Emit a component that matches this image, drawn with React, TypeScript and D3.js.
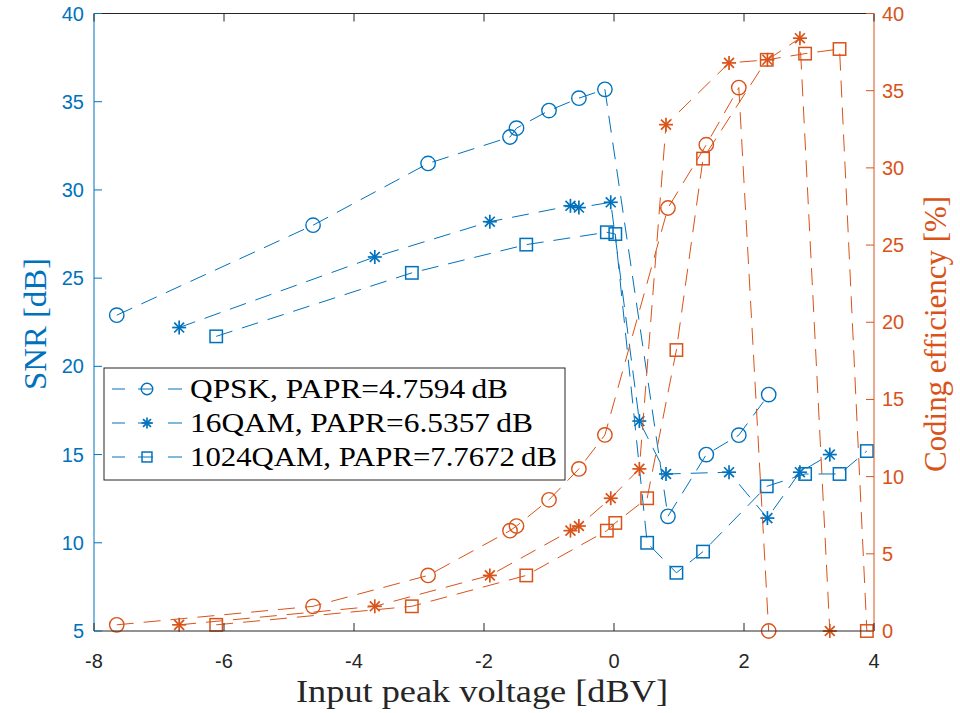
import React from "react";
import * as d3 from "d3";

const qpskX = [-7.65, -4.63, -2.86, -1.6, -1.5, -1.0, -0.54, -0.14, 0.83, 1.42, 1.92, 2.38];
const qpskSNR = [22.9, 28.0, 31.5, 33.0, 33.5, 34.5, 35.2, 35.7, 11.5, 15.0, 16.1, 18.4];
const qpskEff = [0.4, 1.6, 3.6, 6.5, 6.8, 8.5, 10.5, 12.7, 27.4, 31.5, 35.2, 0];

const qam16X = [-6.69, -3.68, -1.91, -0.67, -0.54, -0.05, 0.39, 0.8, 1.77, 2.36, 2.86, 3.32];
const qam16SNR = [22.2, 26.2, 28.2, 29.1, 29.0, 29.3, 16.9, 13.9, 14.0, 11.4, 14.0, 15.0];
const qam16Eff = [0.4, 1.6, 3.6, 6.5, 6.8, 8.6, 10.5, 32.8, 36.8, 37.0, 38.4, 0];

const qam1024X = [-6.12, -3.11, -1.35, -0.11, 0.02, 0.51, 0.96, 1.37, 2.35, 2.94, 3.47, 3.89];
const qam1024SNR = [21.7, 25.3, 26.9, 27.6, 27.5, 10.0, 8.3, 9.5, 13.2, 13.9, 13.9, 15.2];
const qam1024Eff = [0.4, 1.6, 3.6, 6.5, 7.0, 8.6, 18.2, 30.6, 37.0, 37.4, 37.7, 0];

const seriesNames = [
  "QPSK, PAPR=4.7594\u2009dB",
  "16QAM, PAPR=6.5357\u2009dB",
  "1024QAM, PAPR=7.7672\u2009dB",
];
const markerTypes = ["circle", "star", "square"];

const xTicks = [-8, -6, -4, -2, 0, 2, 4];
const yLeftTicks = [5, 10, 15, 20, 25, 30, 35, 40];
const yRightTicks = [0, 5, 10, 15, 20, 25, 30, 35, 40];

const BLUE = "#0072BD";
const ORANGE = "#D95319";
const DARK = "#262626";

const L = 94, R = 874, T = 13.5, B = 631;

function Marker({ type, x, y, color, s = 1 }: { type: string; x: number; y: number; color: string; s?: number }) {
  if (type === "circle") {
    return <circle cx={x} cy={y} r={7.2 * s} fill="none" stroke={color} strokeWidth={1.4} />;
  }
  if (type === "square") {
    const h = 6.2 * s;
    return <rect x={x - h} y={y - h} width={2 * h} height={2 * h} fill="none" stroke={color} strokeWidth={1.5} />;
  }
  const a = 7 * s;
  const b = a * 0.7071;
  return (
    <g stroke={color} strokeWidth={1.7}>
      <line x1={x - a} y1={y} x2={x + a} y2={y} />
      <line x1={x} y1={y - a} x2={x} y2={y + a} />
      <line x1={x - b} y1={y - b} x2={x + b} y2={y + b} />
      <line x1={x - b} y1={y + b} x2={x + b} y2={y - b} />
    </g>
  );
}

export default function App() {
  const x = d3.scaleLinear().domain([-8, 4]).range([L, R]);
  const yL = d3.scaleLinear().domain([5, 40]).range([B, T]);
  const yR = d3.scaleLinear().domain([0, 40]).range([B, T]);

  const xs = [qpskX, qam16X, qam1024X];
  const snrs = [qpskSNR, qam16SNR, qam1024SNR];
  const effs = [qpskEff, qam16Eff, qam1024Eff];

  const lineGen = (xv: number[], yv: number[], ys: d3.ScaleLinear<number, number>) =>
    d3.line<number>().x((_, i) => x(xv[i])).y((v) => ys(v))(yv) || "";

  const tickFont = "'Liberation Sans', Arial, Helvetica, sans-serif";
  const serif = "'Liberation Serif', 'Times New Roman', serif";

  return (
    <svg width={960} height={713} style={{ position: "absolute", left: 0, top: 0, background: "#fff" }}>
      <rect x={0} y={0} width={960} height={713} fill="#fff" />
      {xs.map((xv, si) => (
        <g key={"s" + si}>
          <path d={lineGen(xv, snrs[si], yL)} fill="none" stroke={BLUE} strokeWidth={1} strokeDasharray="17,10" />
          {snrs[si].map((v, i) => (
            <Marker key={i} type={markerTypes[si]} x={x(xv[i])} y={yL(v)} color={BLUE} />
          ))}
        </g>
      ))}
      {xs.map((xv, si) => (
        <g key={"e" + si}>
          <path d={lineGen(xv, effs[si], yR)} fill="none" stroke={ORANGE} strokeWidth={1} strokeDasharray="17,10" />
          {effs[si].map((v, i) => (
            <Marker key={i} type={markerTypes[si]} x={x(xv[i])} y={yR(v)} color={ORANGE} />
          ))}
        </g>
      ))}

      <line x1={L} y1={T} x2={R} y2={T} stroke={DARK} strokeWidth={1} />
      <line x1={L} y1={B} x2={R} y2={B} stroke={DARK} strokeWidth={1} />
      <line x1={L} y1={T} x2={L} y2={B} stroke={BLUE} strokeWidth={1} />
      <line x1={R} y1={T} x2={R} y2={B} stroke={ORANGE} strokeWidth={1} />

      {xTicks.map((t) => (
        <g key={"xt" + t}>
          <line x1={x(t)} y1={B} x2={x(t)} y2={B - 8} stroke={DARK} />
          <line x1={x(t)} y1={T} x2={x(t)} y2={T + 8} stroke={DARK} />
          <text x={x(t)} y={668} textAnchor="middle" fontFamily={tickFont} fontSize={20} fill={DARK}>
            {t}
          </text>
        </g>
      ))}
      {yLeftTicks.map((t) => (
        <g key={"yl" + t}>
          <line x1={L} y1={yL(t)} x2={L + 8} y2={yL(t)} stroke={BLUE} />
          <text x={L - 10} y={yL(t) + 7} textAnchor="end" fontFamily={tickFont} fontSize={20} fill={BLUE}>
            {t}
          </text>
        </g>
      ))}
      {yRightTicks.map((t) => (
        <g key={"yr" + t}>
          <line x1={R} y1={yR(t)} x2={R - 8} y2={yR(t)} stroke={ORANGE} />
          <text x={R + 8} y={yR(t) + 7} textAnchor="start" fontFamily={tickFont} fontSize={20} fill={ORANGE}>
            {t}
          </text>
        </g>
      ))}

      <text x={482} y={702} textAnchor="middle" fontFamily={serif} fontSize={32} fill={DARK} textLength={372} lengthAdjust="spacingAndGlyphs">
        Input peak voltage [dBV]
      </text>
      <text transform={`translate(46,324) rotate(-90)`} textAnchor="middle" fontFamily={serif} fontSize={32} fill={BLUE} textLength={132} lengthAdjust="spacingAndGlyphs">
        SNR [dB]
      </text>
      <text transform={`translate(946,334) rotate(-90)`} textAnchor="middle" fontFamily={serif} fontSize={32} fill={ORANGE} textLength={276} lengthAdjust="spacingAndGlyphs">
        Coding efficiency [%]
      </text>

      <rect x={104} y={368} width={461} height={112} fill="#fff" stroke={DARK} strokeWidth={1} />
      {seriesNames.map((name, i) => {
        const cy = 389 + i * 34;
        return (
          <g key={"lg" + i}>
            <line x1={112} y1={cy} x2={183} y2={cy} stroke={BLUE} strokeWidth={1} strokeDasharray="13,13,15,15,14" />
            <Marker type={markerTypes[i]} x={147} y={cy} color={BLUE} s={0.8} />
            <text x={190} y={cy + 9} fontFamily={serif} fontSize={27} fill="#000" textLength={[318, 343, 367][i]} lengthAdjust="spacingAndGlyphs">
              {name}
            </text>
          </g>
        );
      })}
    </svg>
  );
}
